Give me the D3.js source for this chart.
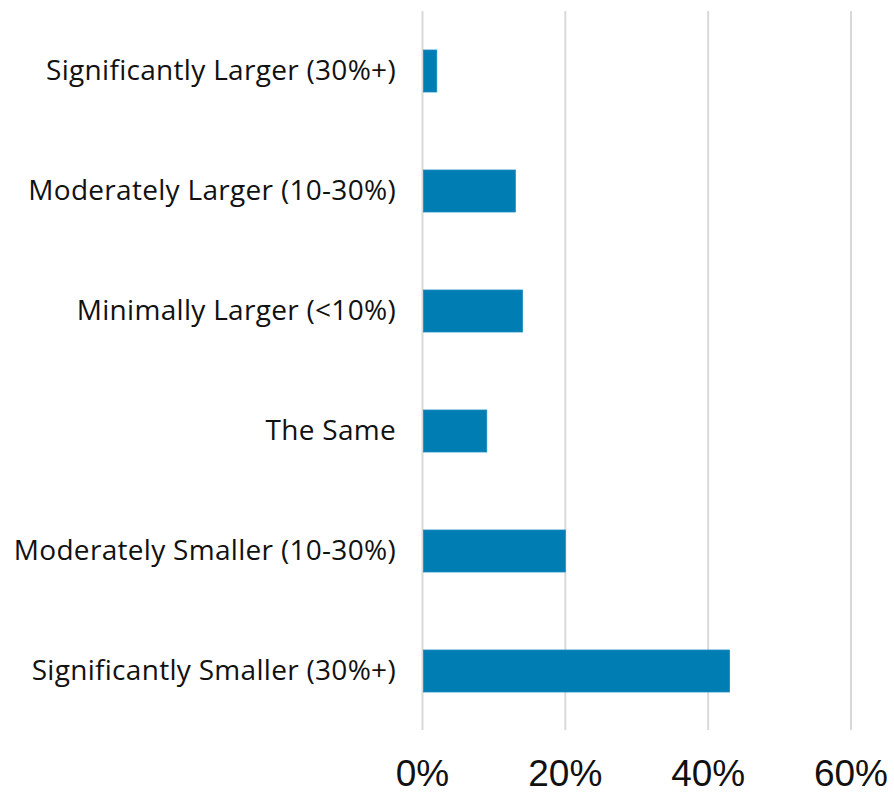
<!DOCTYPE html>
<html>
<head>
<meta charset="utf-8">
<script src="https://cdn.jsdelivr.net/npm/d3@7"></script>
<style>
  html, body { margin: 0; padding: 0; background: #fff; }
  svg { display: block; }
</style>
</head>
<body>
<svg id="chart" width="894" height="793"></svg>
<script>
const categories = [
  "Significantly Larger (30%+)",
  "Moderately Larger (10-30%)",
  "Minimally Larger (<10%)",
  "The Same",
  "Moderately Smaller (10-30%)",
  "Significantly Smaller (30%+)"
];
const values = [2, 13, 14, 9, 20, 43];
const tickValues = [0, 20, 40, 60];

(function () {
  const svg = d3.select("#chart");
  const plotLeft = 422.5, plotRight = 851;
  const plotTop = 11, plotBottom = 731;

  const x = d3.scaleLinear().domain([0, 60]).range([plotLeft, plotRight]);
  const y = d3.scaleBand().domain(categories).range([plotTop, plotBottom])
    .paddingInner(0.65).paddingOuter(0.325);

  // vertical gridlines
  svg.append("g").selectAll("line").data(tickValues).join("line")
    .attr("x1", d => x(d)).attr("x2", d => x(d))
    .attr("y1", plotTop).attr("y2", 730)
    .attr("stroke", "#d9d9d9").attr("stroke-width", 2);

  // bars
  svg.append("g").selectAll("rect").data(categories).join("rect")
    .attr("x", x(0) + 1)
    .attr("y", d => y(d))
    .attr("width", (d, i) => x(values[i]) - x(0) - 1)
    .attr("height", y.bandwidth())
    .attr("fill", "#007db3")
    .attr("stroke", "#1a8cc0").attr("stroke-width", 0.8);

  // category labels
  svg.append("g").selectAll("text").data(categories).join("text")
    .attr("x", 396)
    .attr("y", d => y(d) + y.bandwidth() / 2 + 9)
    .attr("text-anchor", "end")
    .attr("font-family", "'Open Sans', sans-serif")
    .attr("font-size", 28)
    .attr("letter-spacing", 0.3)
    .attr("fill", "#111")
    .text(d => d);

  // x tick labels
  svg.append("g").selectAll("text").data(tickValues).join("text")
    .attr("x", d => x(d))
    .attr("y", 786)
    .attr("text-anchor", "middle")
    .attr("font-family", "'Liberation Sans', Arial, sans-serif")
    .attr("font-size", 37)
    .attr("fill", "#111")
    .text(d => d + "%");
})();
</script>
</body>
</html>
